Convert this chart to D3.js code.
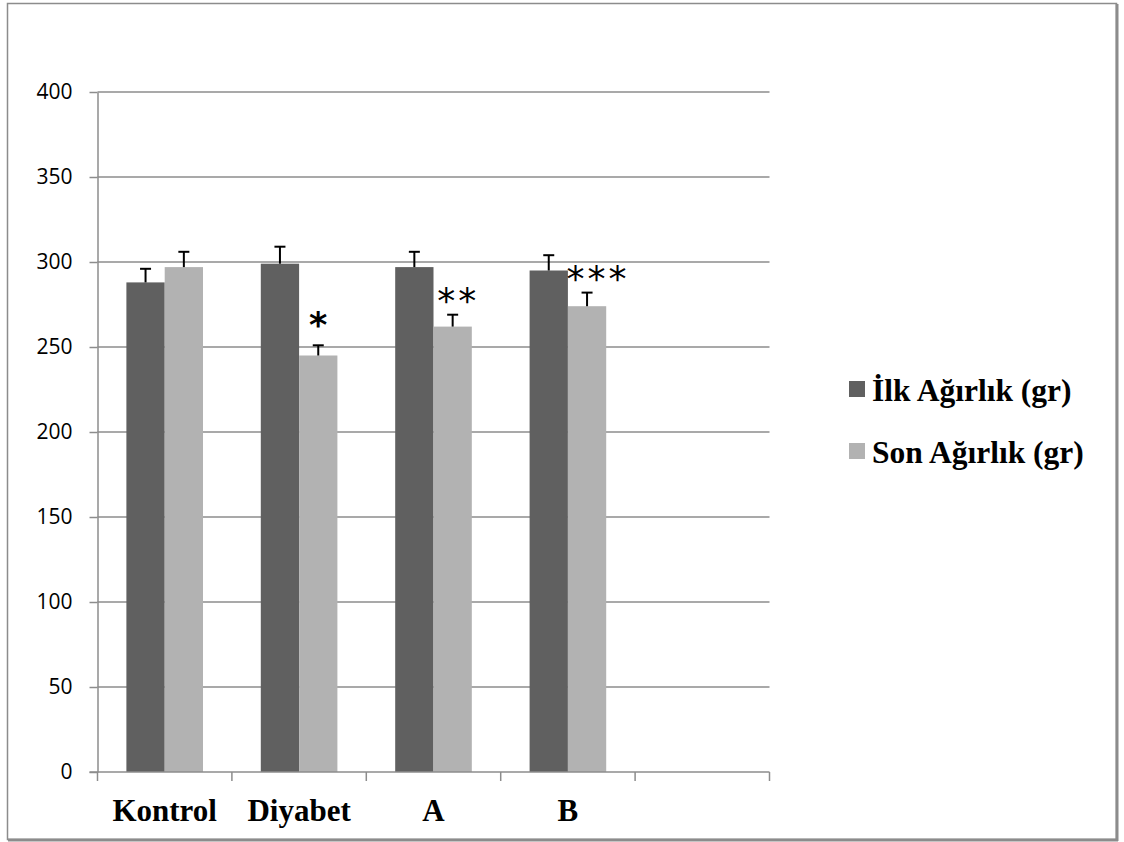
<meta charset="utf-8">
<style>
  body { margin: 0; background: #fff; }
</style>
<svg width="1124" height="842"></svg>
<script src="https://d3js.org/d3.v7.min.js"></script>
<script>
// groups (the last slot is empty in the original chart)
var groups = ["Kontrol", "Diyabet", "A", "B", ""];
var seriesNames = ["İlk Ağırlık (gr)", "Son Ağırlık (gr)"];
var ilk = [288, 299, 297, 295];
var son = [297, 245, 262, 274];
var ilkErr = [8, 10, 9, 9];
var sonErr = [9, 6, 7, 8];
var stars = ["", "*", "**", "***"];
var yTicks = [0, 50, 100, 150, 200, 250, 300, 350, 400];

var colors = ["#606060", "#b2b2b2"];

var svg = d3.select("svg");

// outer frame
svg.append("rect")
  .attr("x", 7.5).attr("y", 3.5)
  .attr("width", 1109).attr("height", 836)
  .attr("fill", "none")
  .attr("stroke", "#8c8c8c")
  .attr("stroke-width", 1.5);
svg.append("line").attr("x1", 1117).attr("x2", 1117).attr("y1", 4).attr("y2", 841)
  .attr("stroke", "#8c8c8c").attr("stroke-width", 3);
svg.append("line").attr("x1", 8).attr("x2", 1118).attr("y1", 840).attr("y2", 840)
  .attr("stroke", "#8c8c8c").attr("stroke-width", 3);

var plotLeft = 97.5, plotRight = 769.5, plotTop = 92, plotBottom = 772;

var x0 = d3.scaleBand()
  .domain(groups)
  .range([plotLeft, plotRight]);

var gap = x0.bandwidth() * 0.215;
var x1 = d3.scaleBand()
  .domain([0, 1])
  .range([gap, x0.bandwidth() - gap]);

var y = d3.scaleLinear()
  .domain([0, 400])
  .range([plotBottom, plotTop]);

// gridlines
svg.append("g")
  .selectAll("line")
  .data(yTicks.filter(function(d) { return d > 0; }))
  .enter().append("line")
    .attr("x1", plotLeft)
    .attr("x2", plotRight)
    .attr("y1", function(d) { return y(d); })
    .attr("y2", function(d) { return y(d); })
    .attr("stroke", "#8c8c8c")
    .attr("stroke-width", 1.5);

// y axis
var yAxis = svg.append("g")
  .attr("transform", "translate(" + plotLeft + ",0)")
  .call(d3.axisLeft(y).tickValues(yTicks).tickSize(8).tickPadding(17).tickSizeOuter(0));
yAxis.select(".domain").attr("stroke", "#8c8c8c").attr("stroke-width", 1.5);
yAxis.selectAll(".tick line").attr("stroke", "#8c8c8c").attr("stroke-width", 1.5);
yAxis.selectAll(".tick text")
  .attr("fill", "#000")
  .attr("font-family", "'Open Sans', sans-serif")
  .attr("font-size", "21px");

// bars
var rows = groups.slice(0, 4).map(function(g, i) {
  return { group: g, i: i, vals: [ilk[i], son[i]], errs: [ilkErr[i], sonErr[i]], star: stars[i] };
});

var barG = svg.append("g")
  .selectAll("g")
  .data(rows)
  .enter().append("g")
    .attr("transform", function(d) { return "translate(" + x0(d.group) + ",0)"; });

barG.selectAll("rect")
  .data(function(d) { return d.vals.map(function(v, k) { return { k: k, v: v }; }); })
  .enter().append("rect")
    .attr("x", function(d) { return x1(d.k); })
    .attr("y", function(d) { return y(d.v); })
    .attr("width", x1.bandwidth())
    .attr("height", function(d) { return y(0) - y(d.v); })
    .attr("fill", function(d) { return colors[d.k]; });

// error bars (upper only)
var errG = barG.selectAll("g.err")
  .data(function(d) { return d.vals.map(function(v, k) { return { k: k, v: v, e: d.errs[k] }; }); })
  .enter().append("g")
    .attr("class", "err")
    .attr("stroke", "#000")
    .attr("stroke-width", 2);
errG.append("line")
  .attr("x1", function(d) { return x1(d.k) + x1.bandwidth() / 2; })
  .attr("x2", function(d) { return x1(d.k) + x1.bandwidth() / 2; })
  .attr("y1", function(d) { return y(d.v); })
  .attr("y2", function(d) { return y(d.v + d.e); });
errG.append("line")
  .attr("x1", function(d) { return x1(d.k) + x1.bandwidth() / 2 - 5.5; })
  .attr("x2", function(d) { return x1(d.k) + x1.bandwidth() / 2 + 5.5; })
  .attr("y1", function(d) { return y(d.v + d.e); })
  .attr("y2", function(d) { return y(d.v + d.e); });

// significance stars over the second bar
barG.filter(function(d) { return d.star; })
  .append("text")
    .attr("x", function(d) { return x1(1) + x1.bandwidth() / 2 + (d.star.length - 1) * 5.5; })
    .attr("y", function(d) { return y(d.vals[1] + d.errs[1]) + (d.star.length > 1 ? -2 : -8); })
    .attr("text-anchor", "middle")
    .attr("font-family", "'DejaVu Sans', sans-serif")
    .attr("font-weight", function(d) { return d.star.length == 1 ? "bold" : "normal"; })
    .attr("font-size", function(d) { return d.star.length == 1 ? "35px" : "36px"; })
    .attr("letter-spacing", function(d) { return d.star.length == 1 ? "0px" : "3px"; })
    .text(function(d) { return d.star; });

// x axis
svg.append("line")
  .attr("x1", plotLeft - 8).attr("x2", plotRight)
  .attr("y1", plotBottom).attr("y2", plotBottom)
  .attr("stroke", "#8c8c8c").attr("stroke-width", 1.5);

var bounds = groups.map(function(g) { return x0(g); }).concat([plotRight]);
svg.append("g")
  .selectAll("line")
  .data(bounds)
  .enter().append("line")
    .attr("x1", function(d) { return d; })
    .attr("x2", function(d) { return d; })
    .attr("y1", plotBottom)
    .attr("y2", plotBottom + 9)
    .attr("stroke", "#8c8c8c")
    .attr("stroke-width", 1.5);

svg.append("g")
  .selectAll("text")
  .data(groups)
  .enter().append("text")
    .attr("x", function(d) { return x0(d) + x0.bandwidth() / 2; })
    .attr("y", 821)
    .attr("text-anchor", "middle")
    .attr("font-family", "'Liberation Serif', 'Times New Roman', serif")
    .attr("font-weight", "bold")
    .attr("font-size", "31px")
    .text(function(d) { return d; });

// legend
var legend = svg.append("g")
  .selectAll("g")
  .data(seriesNames)
  .enter().append("g")
    .attr("transform", function(d, i) { return "translate(849," + (401 + i * 62) + ")"; });

legend.append("rect")
  .attr("x", 0)
  .attr("y", -20)
  .attr("width", 16)
  .attr("height", 16)
  .attr("fill", function(d, i) { return colors[i]; });

legend.append("text")
  .attr("x", 23)
  .attr("y", 0)
  .attr("font-family", "'Liberation Serif', 'Times New Roman', serif")
  .attr("font-weight", "bold")
  .attr("font-size", "31.5px")
  .text(function(d) { return d; });
</script>
